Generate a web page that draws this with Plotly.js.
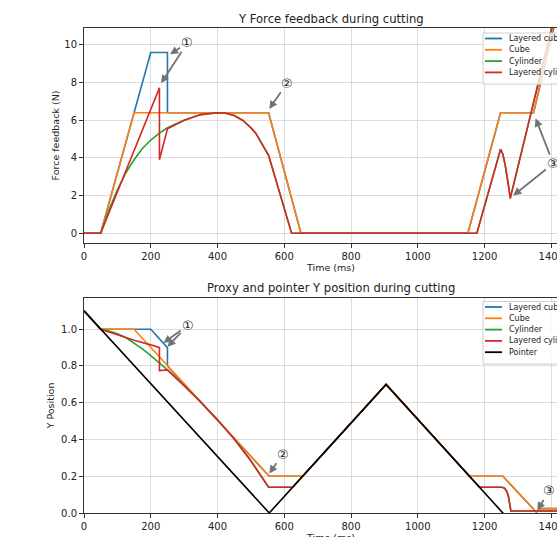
<!DOCTYPE html>
<html>
<head>
<meta charset="utf-8">
<script src="https://cdn.plot.ly/plotly-3.0.1.min.js"></script>
<style>
html,body{margin:0;padding:0;overflow:hidden;background:#fff;}
#chart{width:620px;height:560px;}
</style>
</head>
<body>
<div id="chart"></div>
<script>
// ---------- data ----------
const seriesNames = ['Layered cube', 'Cube', 'Cylinder', 'Layered cylinder', 'Pointer'];
const seriesColors = ['#1f77b4', '#ff7f0e', '#2ca02c', '#d62728', '#000000'];

// Force feedback (N) vs time (ms)
const forceLayeredCubeT = [0, 50, 150, 200, 250, 250, 553, 650, 1150, 1248, 1347, 1395, 1430];
const forceLayeredCubeY = [0, 0, 6.4, 9.6, 9.6, 6.4, 6.4, 0, 0, 6.4, 6.4, 10.2, 12.6];
const forceCubeT = [0, 50, 150, 553, 650, 1150, 1248, 1347, 1395, 1430];
const forceCubeY = [0, 0, 6.4, 6.4, 0, 0, 6.4, 6.4, 10.2, 12.6];
const forceCylinderT = [0, 50, 75, 100, 125, 150, 175, 200, 225, 250, 300, 350, 400, 425, 450, 475, 500, 515, 525, 540, 553, 622, 1177, 1248, 1255, 1262, 1268, 1273, 1277, 1371, 1430];
const forceCylinderY = [0, 0, 1.25, 2.3, 3.2, 3.9, 4.5, 4.95, 5.3, 5.6, 6.0, 6.3, 6.4, 6.37, 6.25, 6.0, 5.6, 5.3, 5.0, 4.5, 4.14, 0, 0, 4.46, 4.2, 3.6, 3.0, 2.4, 1.85, 8.73, 13.0];
const forceLayeredCylT = [0, 50, 226, 226, 250, 300, 350, 400, 425, 450, 475, 500, 515, 525, 540, 553, 622, 1177, 1248, 1255, 1262, 1268, 1273, 1277, 1371, 1430];
const forceLayeredCylY = [0, 0, 7.72, 3.9, 5.55, 6.0, 6.3, 6.4, 6.37, 6.25, 6.0, 5.6, 5.3, 5.0, 4.5, 4.14, 0, 0, 4.46, 4.2, 3.6, 3.0, 2.4, 1.85, 8.73, 13.0];

// Y position vs time (ms)
const posLayeredCubeT = [0, 50, 200, 250, 250, 555, 655, 905, 1155, 1255, 1355, 1370, 1480];
const posLayeredCubeY = [1.1, 1.0, 1.0, 0.9, 0.8, 0.2, 0.2, 0.7, 0.2, 0.2, 0.005, 0.024, 0.024];
const posCubeT = [0, 50, 150, 555, 655, 905, 1155, 1255, 1355, 1370, 1480];
const posCubeY = [1.1, 1.0, 1.0, 0.2, 0.2, 0.7, 0.2, 0.2, 0.005, 0.024, 0.024];
const posCylinderT = [0, 50, 75, 100, 125, 150, 175, 200, 225, 250, 300, 350, 400, 450, 500, 525, 540, 553, 625, 905, 1185, 1252, 1260, 1266, 1271, 1275, 1279, 1480];
const posCylinderY = [1.1, 1.0, 0.99, 0.975, 0.955, 0.925, 0.893, 0.857, 0.818, 0.779, 0.693, 0.603, 0.507, 0.403, 0.284, 0.216, 0.172, 0.14, 0.14, 0.7, 0.14, 0.14, 0.135, 0.12, 0.095, 0.06, 0.011, 0.011];
const posLayeredCylT = [0, 50, 100, 150, 200, 226, 226, 250, 300, 350, 400, 450, 500, 525, 540, 553, 625, 905, 1185, 1252, 1260, 1266, 1271, 1275, 1279, 1480];
const posLayeredCylY = [1.1, 1.0, 0.97, 0.94, 0.915, 0.9, 0.775, 0.779, 0.693, 0.603, 0.507, 0.403, 0.284, 0.216, 0.172, 0.14, 0.14, 0.7, 0.14, 0.14, 0.135, 0.12, 0.095, 0.06, 0.011, 0.011];
const posPointerT = [0, 555, 905, 1255, 1480];
const posPointerY = [1.1, 0, 0.7, 0, -0.45];

const xTicks = [0, 200, 400, 600, 800, 1000, 1200, 1400];
const forceTicks = [0, 2, 4, 6, 8, 10];
const posTicks = [0, 0.2, 0.4, 0.6, 0.8, 1.0];

const titleTop = 'Y Force feedback during cutting';
const titleBottom = 'Proxy and pointer Y position during cutting';
const xLabel = 'Time (ms)';
const yLabelTop = 'Force feedback (N)';
const yLabelBottom = 'Y Position';

// ---------- layout helpers ----------
const W = 620, H = 560;
const M = {l: 84, r: 42, t: 28, b: 47};
const PW = W - M.l - M.r, PH = H - M.t - M.b;
const px = x => (x - M.l) / PW;
const py = y => 1 - (y - M.t) / PH;
const FONT = 'DejaVu Sans';

function tr(t, y, i, xa, ya) {
  return {x: t, y: y, type: 'scatter', mode: 'lines', name: seriesNames[i],
    line: {color: seriesColors[i], width: 1.6}, xaxis: xa, yaxis: ya, showlegend: false,
    hoverinfo: 'skip'};
}

const data = [
  tr(forceLayeredCubeT, forceLayeredCubeY, 0, 'x', 'y'),
  tr(forceCubeT, forceCubeY, 1, 'x', 'y'),
  tr(forceCylinderT, forceCylinderY, 2, 'x', 'y'),
  tr(forceLayeredCylT, forceLayeredCylY, 3, 'x', 'y'),
  tr(posLayeredCubeT, posLayeredCubeY, 0, 'x2', 'y2'),
  tr(posCubeT, posCubeY, 1, 'x2', 'y2'),
  tr(posCylinderT, posCylinderY, 2, 'x2', 'y2'),
  tr(posLayeredCylT, posLayeredCylY, 3, 'x2', 'y2'),
  tr(posPointerT, posPointerY, 4, 'x2', 'y2')
];

function axisX(anchor) {
  return {anchor: anchor, range: [0, 1480], tickvals: xTicks, ticks: 'outside', ticklen: 4,
    tickcolor: '#333', showline: true, mirror: true, linecolor: '#333', linewidth: 1,
    showgrid: true, gridcolor: '#dcdcdc', gridwidth: 1, zeroline: false,
    tickfont: {family: FONT, size: 10, color: '#222'},
    title: {text: xLabel, font: {family: FONT, size: 9.5, color: '#222'}, standoff: 2}};
}
function axisY(anchor, domain, range, ticks, fmt, label, standoff) {
  return {anchor: anchor, domain: domain, range: range, tickvals: ticks, tickformat: fmt,
    ticks: 'outside', ticklen: 4, tickcolor: '#333', showline: true, mirror: true,
    linecolor: '#333', linewidth: 1, showgrid: true, gridcolor: '#dcdcdc', gridwidth: 1,
    zeroline: false, tickfont: {family: FONT, size: 10, color: '#222'},
    title: {text: label, font: {family: FONT, size: 9.5, color: '#222'}, standoff: standoff}};
}

const annotations = [];
const shapes = [];

// subplot titles
annotations.push({text: titleTop, xref: 'paper', yref: 'paper', x: 0.5, y: py(19),
  xanchor: 'center', yanchor: 'middle', showarrow: false, font: {family: FONT, size: 11.6, color: '#222'}});
annotations.push({text: titleBottom, xref: 'paper', yref: 'paper', x: 0.5, y: py(288),
  xanchor: 'center', yanchor: 'middle', showarrow: false, font: {family: FONT, size: 11.6, color: '#222'}});

// circled-number callouts with arrows
function callout(label, tx, ty, hx, hy, xa, ya, visible) {
  annotations.push({text: label, x: hx, y: hy, ax: tx, ay: ty, xref: xa, yref: ya,
    axref: xa, ayref: ya, showarrow: true, arrowhead: 2, arrowsize: 0.9, arrowwidth: 1.8,
    arrowcolor: '#737373', standoff: 0, startstandoff: 0,
    font: {family: FONT, size: 13, color: visible ? '#222' : 'rgba(0,0,0,0)'}});
}
callout('①', 310, 10.12, 258, 9.5, 'x', 'y', true);
callout('①', 310, 10.12, 231, 7.97, 'x', 'y', false);
callout('②', 608, 7.97, 555, 6.6, 'x', 'y', true);
callout('③', 1406, 3.7, 1353, 6.1, 'x', 'y', true);
callout('③', 1406, 3.7, 1286, 2.0, 'x', 'y', false);
callout('①', 312, 1.023, 238, 0.925, 'x2', 'y2', true);
callout('①', 312, 1.023, 250, 0.905, 'x2', 'y2', false);
callout('②', 595, 0.32, 555, 0.215, 'x2', 'y2', true);
callout('③', 1394, 0.12, 1358, 0.015, 'x2', 'y2', true);

// legends (matplotlib style boxes)
function legend(topPx, count) {
  const rowH = 11.3;
  const boxTop = topPx, boxBot = topPx + 5 + count * rowH + 1;
  shapes.push({type: 'rect', xref: 'paper', yref: 'paper', x0: px(483), x1: px(574),
    y0: py(boxBot), y1: py(boxTop), fillcolor: 'rgba(255,255,255,0.8)',
    line: {color: '#d0d0d0', width: 1}, layer: 'above'});
  for (let i = 0; i < count; i++) {
    const yc = topPx + 5.5 + i * rowH;
    shapes.push({type: 'line', xref: 'paper', yref: 'paper', x0: px(485), x1: px(502),
      y0: py(yc), y1: py(yc), line: {color: seriesColors[i], width: 1.8}, layer: 'above'});
    annotations.push({text: seriesNames[i], xref: 'paper', yref: 'paper', x: px(506.5), y: py(yc),
      xanchor: 'left', yanchor: 'middle', showarrow: false,
      font: {family: FONT, size: 8, color: '#222'}});
  }
}
legend(33, 4);
legend(301.5, 5);

const layout = {
  width: W, height: H, margin: M, paper_bgcolor: '#fff', plot_bgcolor: '#fff',
  showlegend: false, font: {family: FONT},
  xaxis: axisX('y'),
  yaxis: axisY('x', [py(243), 1], [-0.52, 10.9], forceTicks, '', yLabelTop, 2),
  xaxis2: axisX('y2'),
  yaxis2: axisY('x2', [0, py(298)], [0, 1.17], posTicks, '.1f', yLabelBottom, 4),
  annotations: annotations,
  shapes: shapes
};

Plotly.newPlot('chart', data, layout, {displayModeBar: false, staticPlot: true});
</script>
</body>
</html>
